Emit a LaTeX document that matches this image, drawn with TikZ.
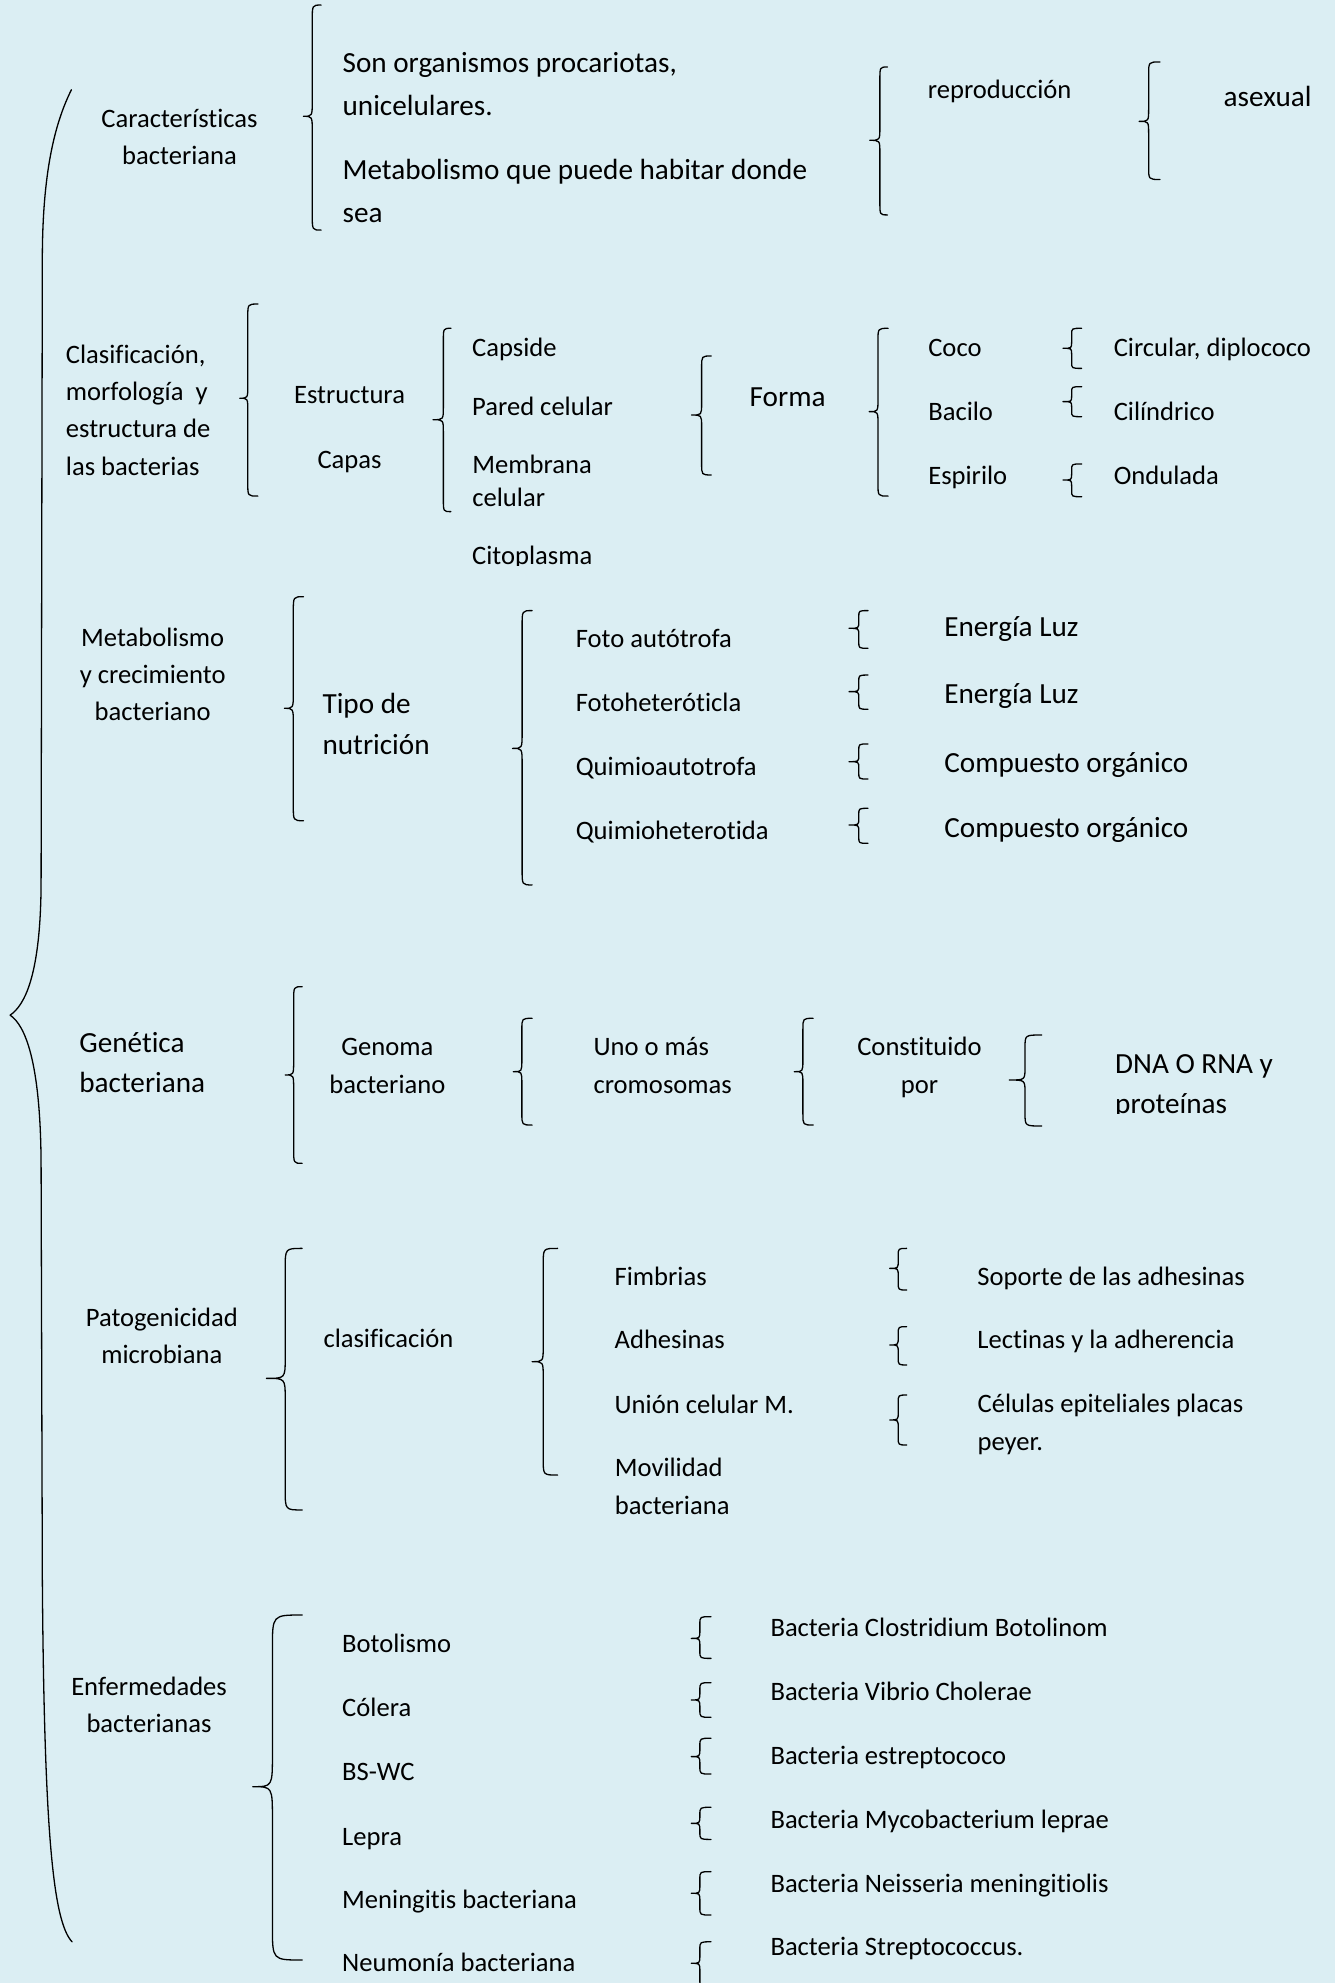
\documentclass[tikz,border=0pt]{standalone}
\usepackage{fontspec}
\setmainfont{Carlito}[RawFeature={-liga}]
\definecolor{bgblue}{RGB}{219,238,243}
\tikzset{
  sm/.style={font=\fontsize{26.6}{37}\selectfont, inner sep=0pt, outer sep=0pt},
  lg/.style={font=\fontsize{29.2}{43}\selectfont, inner sep=0pt, outer sep=0pt},
  bl/.style={draw=black, line width=1.3pt, line cap=round, line join=round},
}
\newcommand{\wbrace}[7]{\draw[bl] (#2,#4) .. controls (#1,#4) .. (#1,#4+#7) -- (#1,#5-#7) .. controls (#1,#5) .. (#3,#5) .. controls (#1,#5) .. (#1,#5+#7) -- (#1,#6-#7) .. controls (#1,#6) .. (#2,#6);}
\begin{document}
\begin{tikzpicture}[x=1.2642pt,y=-1.2642pt]
\useasboundingbox (0,0) rectangle (1056,1568.6);
\fill[bgblue] (0,0) rectangle (1056,1568.6);
\clip (0,0) rectangle (1056,1568.6);

% main brace
\draw[bl] (56.5,71) .. controls (42,100) and (34,140) .. (33.5,200) -- (32.5,700) .. controls (32,770) and (20,795) .. (8,803) .. controls (20,811) and (32,840) .. (32.5,920) -- (33.5,1250) .. controls (35,1450) and (42,1520) .. (57,1536);

% ---- Section 1 (multi-line nodes: base = last line)
\node[sm, align=center, anchor=base] (carac) at (142,130) {Características\\bacteriana};
\wbrace{247}{254}{240}{4}{92}{182}{12}
\node[lg, align=left, anchor=base west] (son) at (271,91.5) {Son organismos procariotas,\\unicelulares.};
\node[lg, align=left, anchor=base west] (meta1) at (271,176.3) {Metabolismo que puede habitar donde\\sea};
\wbrace{696}{702}{688}{53}{111}{170}{10}
\node[sm, anchor=base west] (repro) at (734,77.7) {reproducción};
\wbrace{908.6}{917.6}{901}{49}{96}{142}{10}
\node[lg, anchor=base west] (asex) at (968,84) {asexual};

% ---- Section 2
\node[font=\fontsize{26.6}{37.2}\selectfont, inner sep=0pt, align=left, anchor=base west] (clasif) at (52,375.8) {Clasificación,\\morfología\ \ y\\estructura de\\las bacterias};
\wbrace{196}{204}{189.6}{240.5}{315}{392.4}{10}
\node[sm, anchor=base] (estr) at (276.5,319.2) {Estructura};
\node[sm, anchor=base] (capas) at (276.5,370.6) {Capas};
\wbrace{350.7}{356.7}{342.5}{259.7}{332}{404.7}{10}
\node[sm, anchor=base west] (capside) at (373.5,282.2) {Capside};
\node[sm, anchor=base west] (pared) at (373.5,328.4) {Pared celular};
\node[font=\fontsize{26.6}{33}\selectfont, inner sep=0pt, align=left, anchor=base west] (membr) at (373.5,400.6) {Membrana\\celular};
\begin{scope}
\clip (360,420) rectangle (520,447);
\node[sm, anchor=base west] (cito) at (373.5,446.7) {Citoplasma};
\end{scope}
\wbrace{555}{562.6}{547}{281.6}{328.3}{375.7}{9}
\node[lg, anchor=base west] (forma) at (593,321.2) {Forma};
\wbrace{694.5}{702.5}{687.6}{259.7}{325.6}{392.4}{10}
\node[sm, anchor=base west] (coco) at (734.3,282.2) {Coco};
\node[sm, anchor=base west] (bacilo) at (734.3,332.3) {Bacilo};
\node[sm, anchor=base west] (espir) at (734.3,383.2) {Espirilo};
\wbrace{847.7}{855.6}{840.8}{259.7}{275.5}{291.4}{5}
\wbrace{847.7}{855.6}{840.8}{305.9}{317.7}{329.6}{4.5}
\wbrace{847.7}{855.6}{840.8}{367}{379.7}{392.9}{5}
\node[sm, anchor=base west] (circ) at (881,282.2) {Circular, diplococo};
\node[sm, anchor=base west] (cilin) at (881,332.3) {Cilíndrico};
\node[sm, anchor=base west] (ondul) at (881,383.2) {Ondulada};

% ---- Section 3
\node[sm, align=center, anchor=base] (metab) at (120.8,570.2) {Metabolismo\\y crecimiento\\bacteriano};
\wbrace{232}{240}{225}{472}{560.3}{649.2}{12}
\node[font=\fontsize{29.2}{41.5}\selectfont, inner sep=0pt, align=left, anchor=base west] (tipo) at (255,597.2) {Tipo de\\nutrición};
\wbrace{413}{420.9}{405.4}{483}{592}{700}{12}
\node[sm, anchor=base west] (foto) at (455.5,512.4) {Foto autótrofa};
\node[sm, anchor=base west] (fotoh) at (455.5,562.5) {Fotoheteróticla};
\node[sm, anchor=base west] (quima) at (455.5,613.7) {Quimioautotrofa};
\node[sm, anchor=base west] (quimh) at (455.5,663.7) {Quimioheterotida};
\wbrace{679.3}{686.6}{671.6}{483}{497}{512.8}{5}
\wbrace{679.3}{686.6}{671.6}{534}{547.1}{561}{5}
\wbrace{679.3}{686.6}{671.6}{588.5}{602.5}{616.2}{5}
\wbrace{679.3}{686.6}{671.6}{639.4}{652.6}{667.1}{5}
\node[lg, anchor=base west] (ener1) at (747,503.1) {Energía Luz};
\node[lg, anchor=base west] (ener2) at (747,556.4) {Energía Luz};
\node[lg, anchor=base west] (comp1) at (747,610.7) {Compuesto orgánico};
\node[lg, anchor=base west] (comp2) at (747,662.6) {Compuesto orgánico};

% ---- Section 4
\node[font=\fontsize{29.2}{40}\selectfont, inner sep=0pt, align=left, anchor=base west] (genet) at (62.6,864.3) {Genética\\bacteriana};
\wbrace{232.3}{239}{225.6}{780.5}{850.3}{920.2}{11}
\node[font=\fontsize{26.6}{38.3}\selectfont, inner sep=0pt, align=center, anchor=base] (genoma) at (306.4,865) {Genoma\\bacteriano};
\wbrace{412.8}{420.9}{406}{805.5}{847.7}{889.9}{9}
\node[font=\fontsize{26.6}{38.3}\selectfont, inner sep=0pt, align=left, anchor=base west] (uno) at (469.4,865) {Uno o más\\cromosomas};
\wbrace{635.1}{643.2}{628.3}{805.5}{847.7}{889.9}{9}
\node[font=\fontsize{26.6}{38.3}\selectfont, inner sep=0pt, align=center, anchor=base] (const) at (727.3,865) {Constituido\\por};
\wbrace{810.8}{824}{798.4}{818.7}{854.3}{890.7}{10}
\begin{scope}
\clip (870,810) rectangle (1056,881);
\node[font=\fontsize{29.2}{40}\selectfont, inner sep=0pt, align=left, anchor=base west] (dna) at (882,881) {DNA O RNA y\\proteínas};
\end{scope}

% ---- Section 5
\node[sm, align=center, anchor=base] (patog) at (128,1078.8) {Patogenicidad\\microbiana};
\wbrace{225.6}{239}{210.8}{987.5}{1090.3}{1194.4}{16}
\node[sm, anchor=base west] (clas2) at (255.9,1066.1) {clasificación};
\wbrace{429.7}{441.1}{420.9}{987.5}{1077.1}{1166.8}{12}
\node[sm, anchor=base west] (fimb) at (486.2,1016.6) {Fimbrias};
\node[sm, anchor=base west] (adhes) at (486.2,1066.7) {Adhesinas};
\node[sm, anchor=base west] (union) at (486.2,1118.1) {Unión celular M.};
\node[font=\fontsize{26.6}{37.7}\selectfont, inner sep=0pt, align=left, anchor=base west] (movil) at (486.2,1198) {Movilidad\\bacteriana};
\wbrace{710.5}{717.2}{703.8}{987.5}{1003.3}{1020.4}{6}
\wbrace{710.5}{717.2}{703.8}{1049.4}{1063.9}{1079.7}{6}
\wbrace{710.5}{717.2}{703.8}{1103.5}{1123.2}{1143}{6}
\node[sm, anchor=base west] (soporte) at (773.2,1016.6) {Soporte de las adhesinas};
\node[sm, anchor=base west] (lectin) at (773.2,1066.7) {Lectinas y la adherencia};
\node[font=\fontsize{26.6}{37.7}\selectfont, inner sep=0pt, align=left, anchor=base west] (celul) at (773.2,1147.1) {Células epiteliales placas\\peyer.};

% ---- Section 6
\node[sm, align=center, anchor=base] (enferm) at (117.9,1370.2) {Enfermedades\\bacterianas};
\wbrace{215.5}{239}{200}{1277.5}{1413.3}{1550.4}{26}
\node[sm, anchor=base west] (botol) at (270.7,1307.1) {Botolismo};
\node[sm, anchor=base west] (colera) at (270.7,1358) {Cólera};
\node[sm, anchor=base west] (bswc) at (270.7,1408.7) {BS-WC};
\node[sm, anchor=base west] (lepra) at (270.7,1459.5) {Lepra};
\node[sm, anchor=base west] (mening) at (270.7,1509.7) {Meningitis bacteriana};
\node[sm, anchor=base west] (neumo) at (270.7,1559.7) {Neumonía bacteriana};
\wbrace{553.6}{562.4}{546.8}{1278.8}{1296}{1311.8}{6}
\wbrace{553.6}{562.4}{546.8}{1331}{1344.7}{1358.4}{6}
\wbrace{553.6}{562.4}{546.8}{1375}{1389.5}{1403.3}{6}
\wbrace{553.6}{562.4}{546.8}{1429.6}{1442.3}{1455}{6}
\wbrace{553.6}{562.4}{546.8}{1480.5}{1497.6}{1514.8}{6}
\wbrace{553.6}{562.4}{546.8}{1536}{1553}{1572}{6}
\node[sm, anchor=base west] (bclos) at (609.5,1294.7) {Bacteria Clostridium Botolinom};
\node[sm, anchor=base west] (bvib) at (609.5,1344.9) {Bacteria Vibrio Cholerae};
\node[sm, anchor=base west] (bestr) at (609.5,1395.7) {Bacteria estreptococo};
\node[sm, anchor=base west] (bmyc) at (609.5,1446.4) {Bacteria Mycobacterium leprae};
\node[sm, anchor=base west] (bneis) at (609.5,1497) {Bacteria Neisseria meningitiolis};
\node[sm, anchor=base west] (bstrep) at (609.5,1546.7) {Bacteria Streptococcus.};
\end{tikzpicture}
\end{document}
